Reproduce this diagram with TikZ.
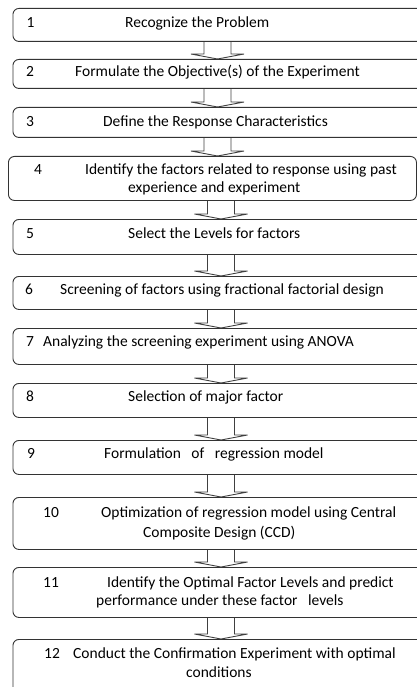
\documentclass[tikz,border=0pt]{standalone}
\usepackage{fontspec}
\setmainfont{Carlito}
\usetikzlibrary{calc}

% hollow block arrow between two stacked boxes, centred at x = #3
\newcommand\hollowdown[3]{%
  \coordinate (aL) at (#3-13.5,0);
  \coordinate (aC) at (#3,0);
  \coordinate (aR) at (#3+13.5,0);
  \draw[hollowarrow]
    (#1.south -| aL) -- ($(#2.north -| aL)+(0,-5)$) -- ++(-13,0)
    -- (#2.north -| aC)
    -- ($(#2.north -| aR)+(13,-5)$) -- ++(-13,0) -- (#1.south -| aR);
}

\begin{document}
\begin{tikzpicture}[x=1pt,y=-1pt,
  flowbox/.style={draw=black!80, line width=0.9pt, rounded corners=6pt,
    inner sep=0pt, anchor=north west, minimum width=420pt},
  lbl/.style={anchor=base west, inner sep=0pt, text=black,
    font=\fontsize{15.5}{18}\selectfont},
  hollowarrow/.style={draw=black!75, line width=0.9pt}]
\useasboundingbox (0,0) rectangle (417,687);
\clip (0,0) rectangle (417,687);

% step boxes
\node[flowbox, minimum height=33pt] (b1) at (12.5,8) {};
\node[flowbox, minimum height=29pt] (b2) at (12.5,59) {};
\node[flowbox, minimum height=30pt] (b3) at (12.5,107) {};
\node[flowbox, minimum height=44pt, minimum width=408pt] (b4) at (8,156) {};
\node[flowbox, minimum height=35pt] (b5) at (12.5,219) {};
\node[flowbox, minimum height=33pt] (b6) at (12.5,276) {};
\node[flowbox, minimum height=36pt] (b7) at (12.5,328) {};
\node[flowbox, minimum height=34pt] (b8) at (12.5,383) {};
\node[flowbox, minimum height=34pt] (b9) at (12.5,440) {};
\node[flowbox, minimum height=52pt] (b10) at (12.5,497) {};
\node[flowbox, minimum height=50pt] (b11) at (12.5,567) {};
\node[flowbox, minimum height=60pt] (b12) at (12.5,639) {};

% arrows
\hollowdown{b1}{b2}{217.5}
\hollowdown{b2}{b3}{217.5}
\hollowdown{b3}{b4}{217.5}
\hollowdown{b4}{b5}{221}
\hollowdown{b5}{b6}{221}
\hollowdown{b6}{b7}{221}
\hollowdown{b7}{b8}{221}
\hollowdown{b8}{b9}{221}
\hollowdown{b9}{b10}{221}
\hollowdown{b10}{b11}{221}
\hollowdown{b11}{b12}{221}

% texts
\node[lbl] (n1) at (26.5,27.5) {1};
\node[lbl] (t1) at (125,27.5) {Recognize the Problem};
\node[lbl] (n2) at (26,77) {2};
\node[lbl] (t2) at (75,77) {Formulate the Objective(s) of the Experiment};
\node[lbl] (n3) at (26,127) {3};
\node[lbl] (t3) at (103,127) {Define the Response Characteristics};
\node[lbl] (n4) at (34,175) {4};
\node[lbl] (t4a) at (85,175) {Identify the factors related to response using past};
\node[lbl] (t4b) at (128,193) {experience and experiment};
\node[lbl] (n5) at (26,238) {5};
\node[lbl] (t5) at (128,238) {Select the Levels for factors};
\node[lbl] (n6) at (25,294) {6};
\node[lbl] (t6) at (60,294) {Screening of factors using fractional factorial design};
\node[lbl] (n7) at (26,346.5) {7};
\node[lbl] (t7) at (43,346.5) {Analyzing the screening experiment using ANOVA};
\node[lbl] (n8) at (26,401) {8};
\node[lbl] (t8) at (128,401) {Selection of major factor};
\node[lbl] (n9) at (27,458) {9};
\node[lbl] (t9) at (104,458) {Formulation\ \ \ of\ \ \ regression model};
\node[lbl] (n10) at (43,517) {10};
\node[lbl] (t10a) at (101,517) {Optimization of regression model using Central};
\node[lbl] (t10b) at (143,537) {Composite Design (CCD)};
\node[lbl] (n11) at (43,587) {11};
\node[lbl] (t11a) at (107,587) {Identify the Optimal Factor Levels and predict};
\node[lbl] (t11b) at (96,605) {performance under these factor\ \ \ levels};
\node[lbl] (n12) at (44,658) {12};
\node[lbl] (t12a) at (73,658) {Conduct the Confirmation Experiment with optimal};
\node[lbl] (t12b) at (186,677) {conditions};
\end{tikzpicture}
\end{document}
